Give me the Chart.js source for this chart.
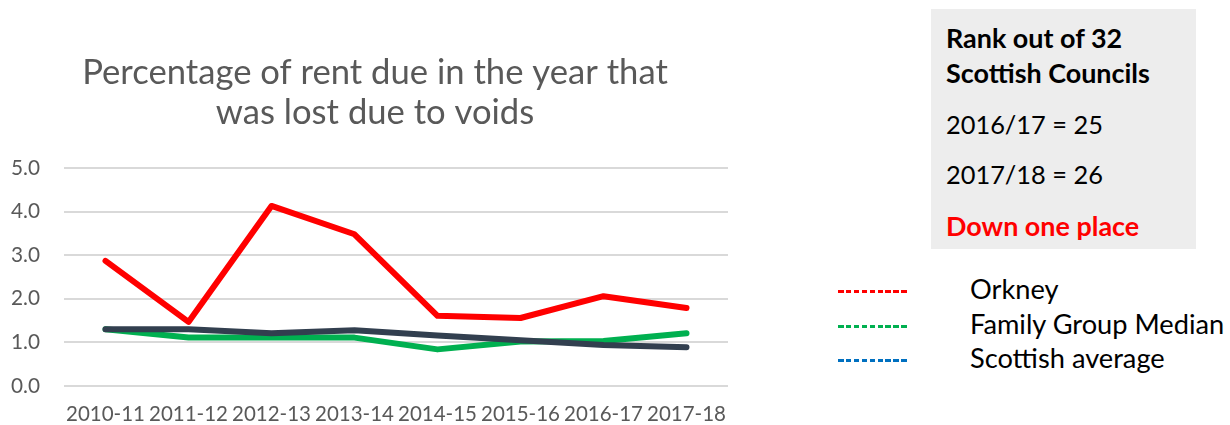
<!DOCTYPE html>
<html>
<head>
<meta charset="utf-8">
<script src="https://cdn.jsdelivr.net/npm/chart.js@4/dist/chart.umd.min.js"></script>
<style>
  html, body { margin:0; padding:0; background:#fff; width:1230px; height:425px; overflow:hidden; }
  #wrap { position:absolute; left:0; top:0; width:750px; height:425px; }
  .t { position:absolute; white-space:nowrap; font-family:"Lato", "Open Sans", sans-serif; line-height:1; }
  #box { position:absolute; left:931px; top:9px; width:265px; height:240px; background:#EDEDED; }
  .dash { position:absolute; left:838px; width:71px; height:3px; }
</style>
</head>
<body>
<div id="wrap"><canvas id="c" width="750" height="425"></canvas></div>
<div id="box"></div>
<div id="legend"></div>
<script>
const categories = ["2010-11","2011-12","2012-13","2013-14","2014-15","2015-16","2016-17","2017-18"];
const orkney       = [2.87, 1.47, 4.13, 3.48, 1.61, 1.56, 2.06, 1.79];
const familyMedian = [1.30, 1.11, 1.11, 1.11, 0.84, 1.02, 1.03, 1.21];
const scottishAvg  = [1.30, 1.30, 1.21, 1.28, 1.16, 1.05, 0.94, 0.89];
const yTicks = [0, 1, 2, 3, 4, 5];
const titleLines = ["Percentage of rent due in the year that", "was lost due to voids"];
const boxLines = ["Rank out of 32", "Scottish Councils", "2016/17 = 25", "2017/18 = 26", "Down one place"];
const legendItems = [
  {label:"Orkney", color:"#FF0000"},
  {label:"Family Group Median", color:"#00B050"},
  {label:"Scottish average", color:"#0070C0"}
];

const FAM = '"Lato", "Open Sans", sans-serif';
const mctx = document.createElement('canvas').getContext('2d');
function fit(text, weight, target) {
  mctx.font = weight + ' 100px ' + FAM;
  return 100 * target / mctx.measureText(text).width;
}

const titleSize = fit(titleLines[0], 'normal', 586);
const xTickSize = fit("2010-11", 'normal', 79);
const yTickSize = fit("5.0", 'normal', 29);

// Box text
const box = document.getElementById('box');
const boldSize = fit(boxLines[1], 'bold', 204);
const normSize = fit(boxLines[2], 'normal', 157);
const boxY = [38, 73, 125, 175, 226];
boxLines.forEach((s, i) => {
  const d = document.createElement('div');
  d.className = 't';
  d.textContent = s;
  const bold = (i < 2 || i === 4);
  const sz = bold ? boldSize : normSize;
  d.style.fontWeight = bold ? 'bold' : 'normal';
  d.style.fontSize = sz + 'px';
  d.style.color = i === 4 ? '#FF0000' : '#000';
  d.style.left = '15px';
  d.style.top = (boxY[i] - 9 - sz/2) + 'px';
  box.appendChild(d);
});

// Legend
const leg = document.getElementById('legend');
const legSize = fit(legendItems[1].label, 'normal', 255);
const legY = [291, 326, 360];
legendItems.forEach((it, i) => {
  const dsh = document.createElement('div');
  dsh.className = 'dash';
  dsh.style.top = (legY[i] - 1.5) + 'px';
  dsh.style.background = 'repeating-linear-gradient(to right, ' + it.color + ' 0px, ' + it.color + ' 5.5px, transparent 5.5px, transparent 7.9px)';
  leg.appendChild(dsh);
  const d = document.createElement('div');
  d.className = 't';
  d.textContent = it.label;
  d.style.fontSize = legSize + 'px';
  d.style.color = '#000';
  d.style.left = '970px';
  d.style.top = (legY[i] - 2 - legSize/2) + 'px';
  leg.appendChild(d);
});

const plotLeft = 64, plotRight = 728, plotTop = 168, plotBottom = 386, xLabelCenter = 414;
const xPad = (xLabelCenter - plotBottom) - 0.6 * xTickSize;

new Chart(document.getElementById('c'), {
  type: 'line',
  data: {
    labels: categories,
    datasets: [
      {label:"Orkney", data:orkney, borderColor:"#FF0000", order:0},
      {label:"Scottish average", data:scottishAvg, borderColor:"#323F4F", order:1},
      {label:"Family Group Median", data:familyMedian, borderColor:"#00B050", order:2}
    ]
  },
  options: {
    responsive:false,
    animation:false,
    devicePixelRatio:1,
    layout:{ padding:{ top:53, left:0, right:0, bottom:0 } },
    elements:{
      line:{ borderWidth:6, tension:0, fill:false, borderJoinStyle:'round', borderCapStyle:'round' },
      point:{ radius:0, hoverRadius:0 }
    },
    plugins:{
      legend:{ display:false },
      tooltip:{ enabled:false },
      title:{
        display:true,
        text:titleLines,
        color:'#595959',
        font:{ family:FAM, size:titleSize, weight:'normal', lineHeight:40/titleSize },
        padding:{ top:0, bottom:plotTop - 53 - 80 }
      }
    },
    scales:{
      x:{
        offset:true,
        grid:{ display:false, drawTicks:false },
        border:{ display:false },
        ticks:{ color:'#595959', font:{ family:FAM, size:xTickSize }, autoSkip:false, maxRotation:0, minRotation:0, padding:xPad },
        afterFit:(ax)=>{ ax.height = 425 - plotBottom; }
      },
      y:{
        min:0, max:5,
        afterBuildTicks: (ax) => { ax.ticks = yTicks.map(v => ({value:v})); },
        grid:{ color:'#D9D9D9', lineWidth:2, drawTicks:false },
        border:{ display:false },
        ticks:{ color:'#595959', font:{ family:FAM, size:yTickSize }, padding:24, callback:(v)=>Number(v).toFixed(1) },
        afterFit:(ax)=>{ ax.width = plotLeft; }
      },
      yRight:{
        position:'right',
        min:0, max:5,
        grid:{ display:false, drawTicks:false },
        border:{ display:false },
        ticks:{ display:false },
        afterFit:(ax)=>{ ax.width = 750 - plotRight; }
      }
    }
  }
});
</script>
</body>
</html>
